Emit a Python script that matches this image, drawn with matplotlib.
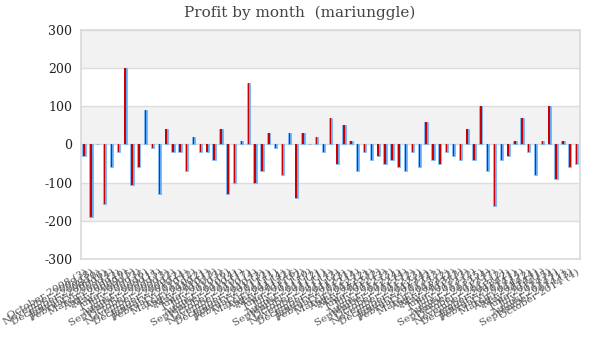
#!/usr/bin/env python3
"""
Monthly profit bar chart with banded background.
"""

import matplotlib
matplotlib.use("Agg")
import matplotlib.pyplot as plt
import pandas as pd

# one bar per month, Oct 2008 onwards
profit = [
    -30, -190, 0, -155, -60, -20, 200, -105, -60, 90,
    -10, -130, 40, -20, -20, -70, 20, -20, -20, -40,
    40, -130, -100, 10, 160, -100, -70, 30, -10, -80,
    30, -140, 30, 0, 20, -20, 70, -50, 50, 10,
    -70, -20, -40, -30, -50, -40, -60, -70, -20, -60,
    60, -40, -50, -20, -30, -40, 40, -40, 100, -70,
    -160, -40, -30, 10, 70, -20, -80, 10, 100, -90,
    10, -60, -50,
]
counts = [
    3, 8, 0, 6, 4, 2, 9, 5, 3, 6,
    1, 5, 3, 2, 2, 4, 2, 2, 1, 3,
    3, 6, 4, 1, 7, 4, 3, 2, 1, 4,
    2, 6, 2, 0, 2, 1, 4, 3, 3, 1,
    4, 2, 3, 2, 3, 3, 4, 4, 2, 3,
    4, 2, 3, 2, 2, 3, 3, 2, 5, 4,
    7, 2, 2, 1, 4, 2, 4, 1, 5, 4,
    1, 3, 4,
]
months = pd.date_range("2008-10-01", periods=len(profit), freq="MS")
labels = [f"{m.strftime('%B %Y')} ({c})" for m, c in zip(months, counts)]

yTicks = [-300, -200, -100, 0, 100, 200, 300]

fig = plt.figure(figsize=(6, 3.6), dpi=100)
ax = fig.add_axes([0.1345, 0.2806, 0.8322, 0.6361])

# alternating horizontal bands
for i, lo in enumerate(yTicks[:-1]):
    if (len(yTicks) - 2 - i) % 2 == 0:
        ax.axhspan(lo, lo + 100, color="#f2f2f2", zorder=0, lw=0)
for t in yTicks:
    ax.axhline(t, color="#dddddd", lw=1, zorder=1)

x = list(range(len(profit)))
# blue outline bar, then a narrow red core on top
ax.bar(x, profit, width=0.48, color="#5fa8f5", edgecolor="#5fa8f5",
       linewidth=0.4, zorder=3)
ax.bar(x, profit, width=0.22, color="#cc0000", linewidth=0, zorder=4)

ax.set_xlim(-0.5, len(profit) - 0.5)
ax.set_ylim(-300, 300)
ax.set_yticks(yTicks)
ax.set_yticklabels([str(t) for t in yTicks], family="DejaVu Serif",
                   fontsize=9, color="#222222")
ax.set_xticks(x)
ax.set_xticklabels(labels, rotation=30, ha="right", rotation_mode="anchor",
                   family="DejaVu Serif", fontsize=7.5, color="#555555")
ax.tick_params(axis="both", length=0, pad=6)

for side in ["top", "right", "bottom", "left"]:
    ax.spines[side].set_color("#d9d9d9")
    ax.spines[side].set_linewidth(1.2)

fig.suptitle("Profit by month  (mariunggle)", y=0.985, family="DejaVu Serif",
             fontsize=11, color="#444444")

fig.savefig("out.png", dpi=100)
